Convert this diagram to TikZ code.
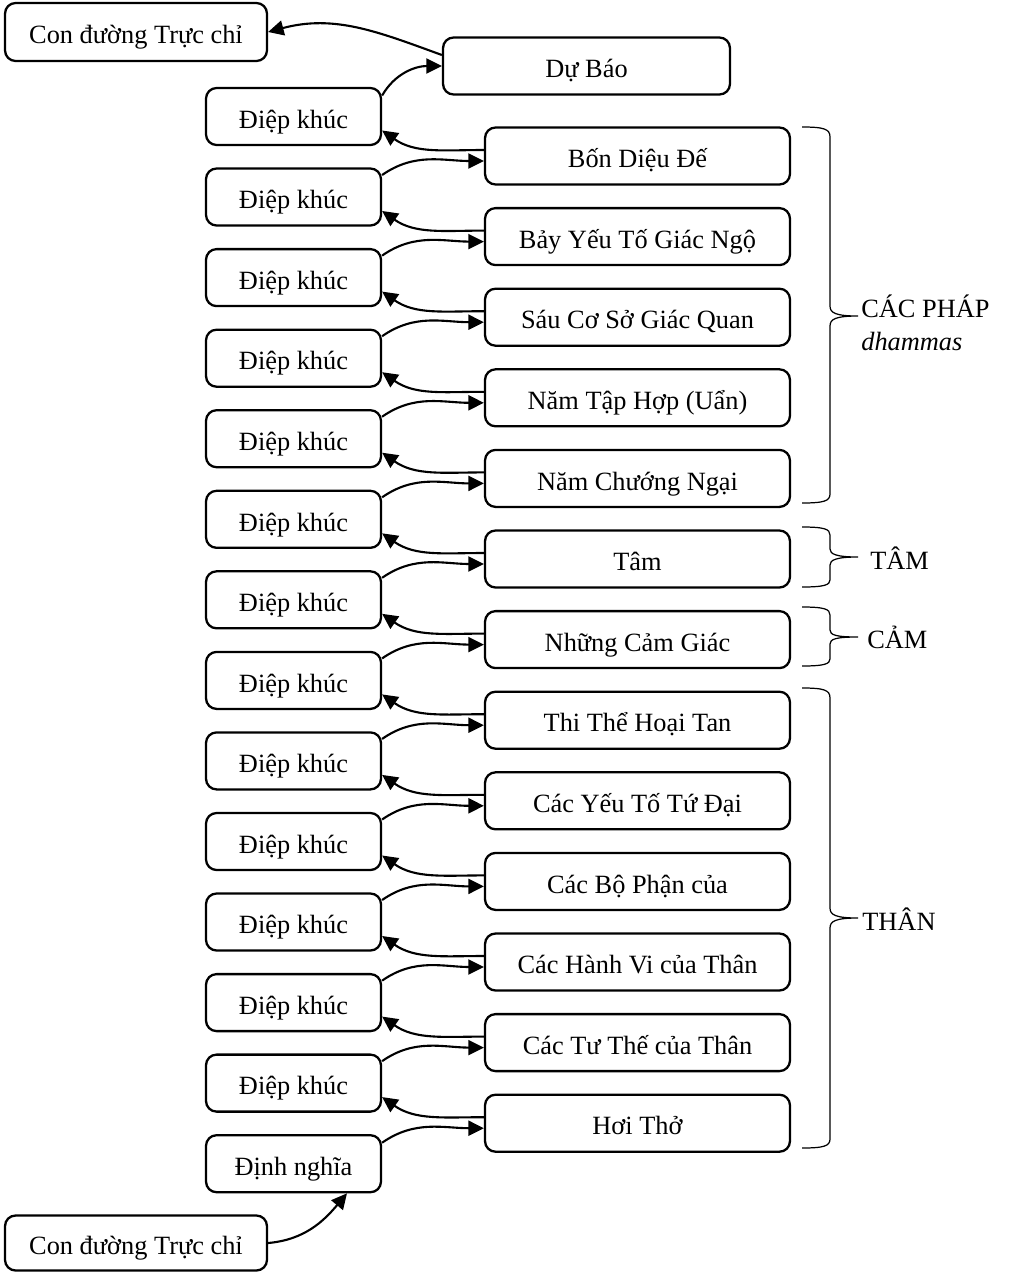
\documentclass[tikz,border=0pt]{standalone}
\usepackage{fontspec}
\setmainfont{Liberation Serif}
\usetikzlibrary{arrows.meta}

\begin{document}
\begin{tikzpicture}[x=0.02cm, y=0.02cm,
  box/.style={rectangle, draw, line width=1.3pt, rounded corners=6pt, minimum height=1.14cm, align=center, inner sep=0pt, text height=17pt, text depth=3.6pt, font=\fontsize{15}{18}\selectfont},
  dk/.style={box, minimum width=3.5cm},
  sec/.style={box, minimum width=6.1cm},
  tr/.style={-{Triangle[length=3.1mm,width=3mm]}, line width=1.2pt},
  br/.style={line width=0.7pt},
  lbl/.style={anchor=base west, inner sep=0pt, font=\fontsize{15}{18}\selectfont}
]
  \useasboundingbox (0,0) rectangle (1009,-1272);

  \node[box, minimum width=5.24cm, minimum height=1.16cm] (con1) at (136,-32) {Con đường Trực chỉ};
  \node[box, minimum width=5.74cm] (db) at (586.5,-66) {Dự Báo};

  % cot trai
  \node[dk] (dk1) at (293.5,-116.5) {Điệp khúc};
  \node[dk] (dk2) at (293.5,-197) {Điệp khúc};
  \node[dk] (dk3) at (293.5,-277.6) {Điệp khúc};
  \node[dk] (dk4) at (293.5,-358.2) {Điệp khúc};
  \node[dk] (dk5) at (293.5,-438.7) {Điệp khúc};
  \node[dk] (dk6) at (293.5,-519.3) {Điệp khúc};
  \node[dk] (dk7) at (293.5,-599.8) {Điệp khúc};
  \node[dk] (dk8) at (293.5,-680.4) {Điệp khúc};
  \node[dk] (dk9) at (293.5,-760.9) {Điệp khúc};
  \node[dk] (dk10) at (293.5,-841.5) {Điệp khúc};
  \node[dk] (dk11) at (293.5,-922) {Điệp khúc};
  \node[dk] (dk12) at (293.5,-1002.6) {Điệp khúc};
  \node[dk] (dk13) at (293.5,-1083.1) {Điệp khúc};
  \node[dk] (dn) at (293.5,-1163.7) {Định nghĩa};
  \node[box, minimum width=5.24cm, minimum height=1.1cm] (con2) at (136,-1243) {Con đường Trực chỉ};

  % cot phai
  \node[sec] (r1) at (637.5,-156) {Bốn Diệu Đế};
  \node[sec] (r2) at (637.5,-236.6) {Bảy Yếu Tố Giác Ngộ};
  \node[sec] (r3) at (637.5,-317.2) {Sáu Cơ Sở Giác Quan};
  \node[sec] (r4) at (637.5,-397.8) {Năm Tập Hợp (Uẩn)};
  \node[sec] (r5) at (637.5,-478.4) {Năm Chướng Ngại};
  \node[sec] (r6) at (637.5,-559) {Tâm};
  \node[sec] (r7) at (637.5,-639.6) {Những Cảm Giác};
  \node[sec] (r8) at (637.5,-720.2) {Thi Thể Hoại Tan};
  \node[sec] (r9) at (637.5,-800.8) {Các Yếu Tố Tứ Đại};
  \node[sec] (r10) at (637.5,-881.4) {Các Bộ Phận của};
  \node[sec] (r11) at (637.5,-962) {Các Hành Vi của Thân};
  \node[sec] (r12) at (637.5,-1042.6) {Các Tư Thế của Thân};
  \node[sec] (r13) at (637.5,-1123.2) {Hơi Thở};

  % mui ten
  \draw[tr] (con2.east) to[out=5,in=-130] ([xshift=10.7mm]dn.south);
  \draw[tr] ([yshift=4.2mm]dn.east) to[out=35,in=180] ([yshift=-1mm]r13.west);
  \draw[tr] ([yshift=1.2mm]r13.west) to[out=180,in=-35] ([yshift=-2.8mm]dk13.east);
  \draw[tr] ([yshift=4.4mm]dk13.east) to[out=35,in=180] ([yshift=-1mm]r12.west);
  \draw[tr] ([yshift=1.2mm]r12.west) to[out=180,in=-35] ([yshift=-2.8mm]dk12.east);
  \draw[tr] ([yshift=4.4mm]dk12.east) to[out=35,in=180] ([yshift=-1mm]r11.west);
  \draw[tr] ([yshift=1.2mm]r11.west) to[out=180,in=-35] ([yshift=-2.8mm]dk11.east);
  \draw[tr] ([yshift=4.4mm]dk11.east) to[out=35,in=180] ([yshift=-1mm]r10.west);
  \draw[tr] ([yshift=1.2mm]r10.west) to[out=180,in=-35] ([yshift=-2.8mm]dk10.east);
  \draw[tr] ([yshift=4.4mm]dk10.east) to[out=35,in=180] ([yshift=-1mm]r9.west);
  \draw[tr] ([yshift=1.2mm]r9.west) to[out=180,in=-35] ([yshift=-2.8mm]dk9.east);
  \draw[tr] ([yshift=4.4mm]dk9.east) to[out=35,in=180] ([yshift=-1mm]r8.west);
  \draw[tr] ([yshift=1.2mm]r8.west) to[out=180,in=-35] ([yshift=-2.8mm]dk8.east);
  \draw[tr] ([yshift=4.4mm]dk8.east) to[out=35,in=180] ([yshift=-1mm]r7.west);
  \draw[tr] ([yshift=1.2mm]r7.west) to[out=180,in=-35] ([yshift=-2.8mm]dk7.east);
  \draw[tr] ([yshift=4.4mm]dk7.east) to[out=35,in=180] ([yshift=-1mm]r6.west);
  \draw[tr] ([yshift=1.2mm]r6.west) to[out=180,in=-35] ([yshift=-2.8mm]dk6.east);
  \draw[tr] ([yshift=4.4mm]dk6.east) to[out=35,in=180] ([yshift=-1mm]r5.west);
  \draw[tr] ([yshift=1.2mm]r5.west) to[out=180,in=-35] ([yshift=-2.8mm]dk5.east);
  \draw[tr] ([yshift=4.4mm]dk5.east) to[out=35,in=180] ([yshift=-1mm]r4.west);
  \draw[tr] ([yshift=1.2mm]r4.west) to[out=180,in=-35] ([yshift=-2.8mm]dk4.east);
  \draw[tr] ([yshift=4.4mm]dk4.east) to[out=35,in=180] ([yshift=-1mm]r3.west);
  \draw[tr] ([yshift=1.2mm]r3.west) to[out=180,in=-35] ([yshift=-2.8mm]dk3.east);
  \draw[tr] ([yshift=4.4mm]dk3.east) to[out=35,in=180] ([yshift=-1mm]r2.west);
  \draw[tr] ([yshift=1.2mm]r2.west) to[out=180,in=-35] ([yshift=-2.8mm]dk2.east);
  \draw[tr] ([yshift=4.4mm]dk2.east) to[out=35,in=180] ([yshift=-1mm]r1.west);
  \draw[tr] ([yshift=1.2mm]r1.west) to[out=180,in=-35] ([yshift=-2.8mm]dk1.east);
  \draw[tr] ([yshift=4.2mm]dk1.east) to[out=60,in=180] (db.west);
  \draw[tr] ([yshift=2.2mm]db.west) to[out=160,in=15] (con1.east);

  % ngoac nhon
  \draw[br] (802,-127) .. controls (824,-127) and (830,-129) .. (830,-137) -- (830,-306)
    .. controls (830,-313) and (836,-316) .. (858,-316)
    .. controls (836,-316) and (830,-319) .. (830,-326) -- (830,-494)
    .. controls (830,-501) and (824,-503) .. (802,-503);
  \draw[br] (802,-527) .. controls (824,-527) and (830,-529) .. (830,-535) -- (830,-549)
    .. controls (830,-554) and (836,-557) .. (858,-557)
    .. controls (836,-557) and (830,-560) .. (830,-565) -- (830,-580)
    .. controls (830,-585) and (824,-587) .. (802,-587);
  \draw[br] (802,-607) .. controls (824,-607) and (830,-609) .. (830,-615) -- (830,-630)
    .. controls (830,-635) and (836,-637) .. (858,-637)
    .. controls (836,-637) and (830,-639) .. (830,-644) -- (830,-659)
    .. controls (830,-664) and (824,-666) .. (802,-666);
  \draw[br] (802,-688) .. controls (824,-688) and (830,-690) .. (830,-698) -- (830,-908)
    .. controls (830,-915) and (836,-918) .. (858,-918)
    .. controls (836,-918) and (830,-921) .. (830,-928) -- (830,-1139)
    .. controls (830,-1146) and (824,-1148) .. (802,-1148);
  \node[lbl] (phap) at (861,-317) {CÁC PHÁP};
  \node[lbl] (dhamma) at (861,-350) {\textit{dhammas}};
  \node[lbl] (tam) at (870,-569) {TÂM};
  \node[lbl] (cam) at (867,-648) {CẢM};
  \node[lbl] (than) at (862,-930) {THÂN};
\end{tikzpicture}
\end{document}
